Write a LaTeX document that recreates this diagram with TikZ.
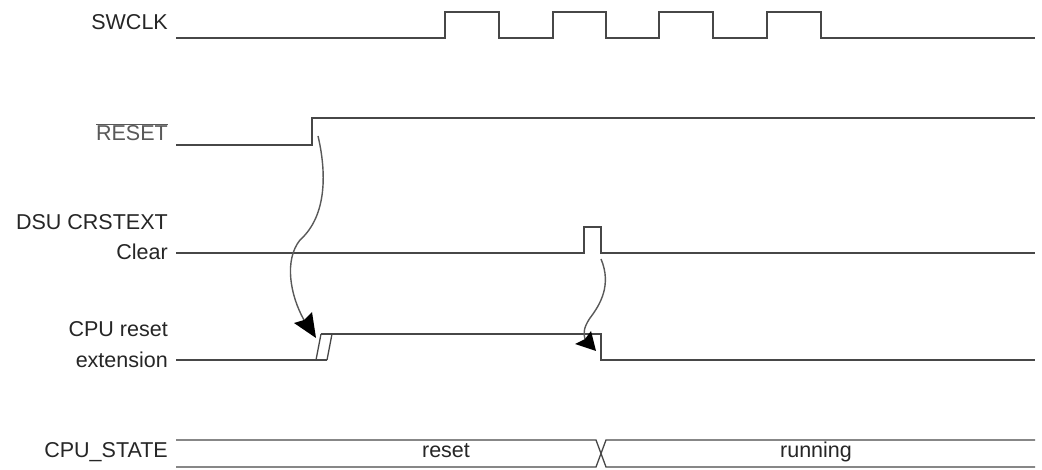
\documentclass[tikz,border=0pt]{standalone}
\usepackage{fontspec}
\setmainfont{Liberation Sans}
\begin{document}
\begin{tikzpicture}[x=1pt,y=-1pt,
  sig/.style={line width=1.3pt,draw=black!72,line join=miter},
  lbl/.style={anchor=east,inner sep=0pt,font=\fontsize{21.5}{24}\selectfont,text=black!85},
  txt/.style={inner sep=0pt,font=\fontsize{21.5}{24}\selectfont,text=black!85},
  cause/.style={line width=1.4pt,draw=black!65},
  headfill/.style={fill=black}]
\useasboundingbox[fill=white] (0,0) rectangle (1042,470);
% labels
\node[lbl] (lswclk) at (168,22) {SWCLK};
\node[lbl,text=black!65] (lreset) at (168,132) {$\overline{\hbox{RESET}}$};
\node[lbl] (ldsu) at (168,222) {DSU CRSTEXT};
\node[lbl] (lclear) at (168,252) {Clear};
\node[lbl] (lcpu) at (168,329) {CPU reset};
\node[lbl] (lext) at (168,360) {extension};
\node[lbl] (lstate) at (168,452) {CPU\_STATE};
% SWCLK
\draw[sig] (176,38) -- (445,38) -- (445,12) -- (499,12) -- (499,38) -- (553,38) -- (553,12) -- (606,12) -- (606,38)
  -- (659,38) -- (659,12) -- (713,12) -- (713,38) -- (767,38) -- (767,12) -- (821,12) -- (821,38) -- (1035,38);
% RESET
\draw[sig] (176,145) -- (312,145) -- (312,118) -- (1035,118);
% DSU CRSTEXT Clear
\draw[sig] (176,253) -- (584,253) -- (584,227) -- (601,227) -- (601,253) -- (1035,253);
% CPU reset extension
\draw[sig] (176,360) -- (327,360);
\draw[sig] (316,360) -- (321,334);
\draw[sig] (327,360) -- (332,334);
\draw[sig] (321,334) -- (601,334) -- (601,360) -- (1035,360);
% CPU_STATE
\draw[sig] (176,440) -- (596,440) -- (606,467) -- (1035,467);
\draw[sig] (176,467) -- (596,467) -- (606,440) -- (1035,440);
\node[txt] (sreset) at (446,451) {reset};
\node[txt] (srun) at (816,452) {running};
% causal arrow 1
\coordinate (a1s) at (318,136);
\coordinate (a1e) at (304,320);
\coordinate (h1t) at (316,338);
\coordinate (h1l) at (294,323);
\coordinate (h1r) at (312,312);
\coordinate (h1n) at (304,320);
\draw[cause] (a1s) .. controls (326,170) and (328,215) .. (300,240)
  .. controls (284,260) and (290,295) .. (a1e);
\fill[headfill] (h1t) -- (h1l) -- (h1n) -- (h1r) -- cycle;
% causal arrow 2
\coordinate (a2s) at (601,259);
\coordinate (a2e) at (585,339);
\coordinate (h2t) at (596,351);
\coordinate (h2l) at (575,344);
\coordinate (h2r) at (591,331);
\coordinate (h2n) at (585,339);
\draw[cause] (a2s) .. controls (612,285) and (600,305) .. (590,318)
  .. controls (584,327) and (583,333) .. (a2e);
\fill[headfill] (h2t) -- (h2l) -- (h2n) -- (h2r) -- cycle;
\end{tikzpicture}
\end{document}
